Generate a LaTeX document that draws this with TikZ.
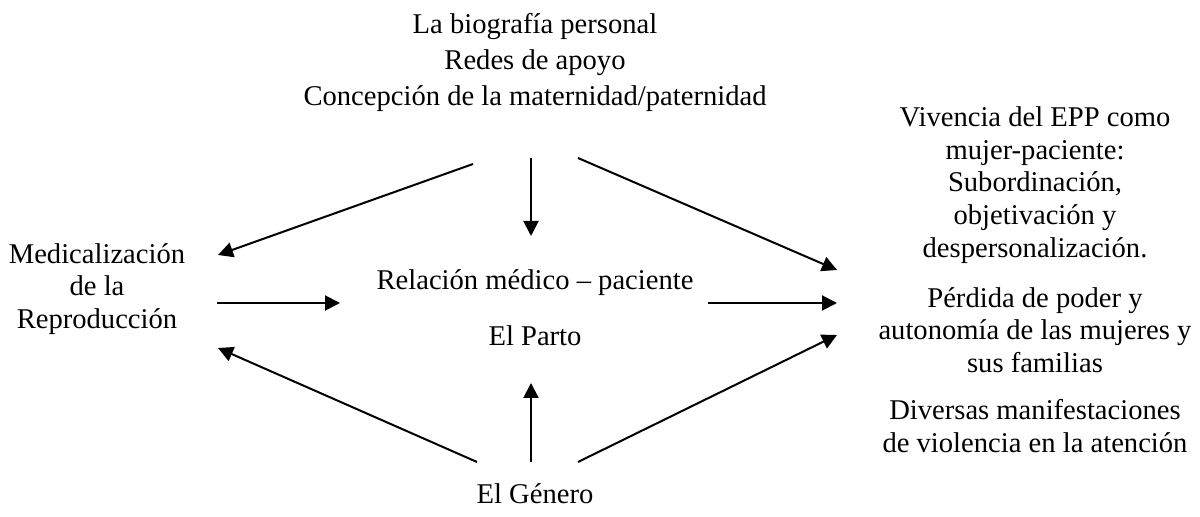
\documentclass[tikz,border=0pt]{standalone}
\usepackage{fontspec}
\setmainfont{Liberation Serif}
\usetikzlibrary{positioning,arrows.meta}

\begin{document}
\begin{tikzpicture}[x=0.5pt,y=-0.5pt,
    txt/.style={align=center, font=\fontsize{14.3}{16.3}\selectfont, inner sep=0pt},
    flecha/.style={-{Triangle[length=7.5pt,width=7.5pt]}, line width=1pt}]
    \useasboundingbox (0,0) rectangle (1200,517);

    % Factores de arriba
    \node[txt] (bio) at (535,27) {La biografía personal};
    \node[txt] (redes) at (535,63) {Redes de apoyo};
    \node[txt] (conc) at (535,99) {Concepción de la maternidad/paternidad};

    % Izquierda, centro y abajo
    \node[txt] (medic) at (97,289) {Medicalización\\de la\\Reproducción};
    \node[txt] (rel) at (535,283) {Relación médico -- paciente};
    \node[txt] (parto) at (535,336) {El Parto};
    \node[txt] (genero) at (535,494) {El Género};

    % Consecuencias a la derecha
    \node[txt] (viv) at (1035,185) {Vivencia del EPP como\\mujer-paciente:\\Subordinación,\\objetivación y\\despersonalización.};
    \node[txt] (perd) at (1035,330) {Pérdida de poder y\\autonomía de las mujeres y\\sus familias};
    \node[txt] (div) at (1035,426) {Diversas manifestaciones\\de violencia en la atención};

    % Extremos de las flechas
    \coordinate (a1) at (473,164); \coordinate (b1) at (218,255);
    \coordinate (a2) at (531,158); \coordinate (b2) at (531,236);
    \coordinate (a3) at (578,158); \coordinate (b3) at (837,270);
    \coordinate (a4) at (217,303); \coordinate (b4) at (340,303);
    \coordinate (a5) at (708,303); \coordinate (b5) at (837,303);
    \coordinate (a6) at (477,462); \coordinate (b6) at (218,348);
    \coordinate (a7) at (531,462); \coordinate (b7) at (531,383);
    \coordinate (a8) at (578,462); \coordinate (b8) at (837,335);

    % Dibujar flechas
    \foreach \i in {1,...,8} {
      \draw[flecha] (a\i) -- (b\i);
    }
\end{tikzpicture}
\end{document}
